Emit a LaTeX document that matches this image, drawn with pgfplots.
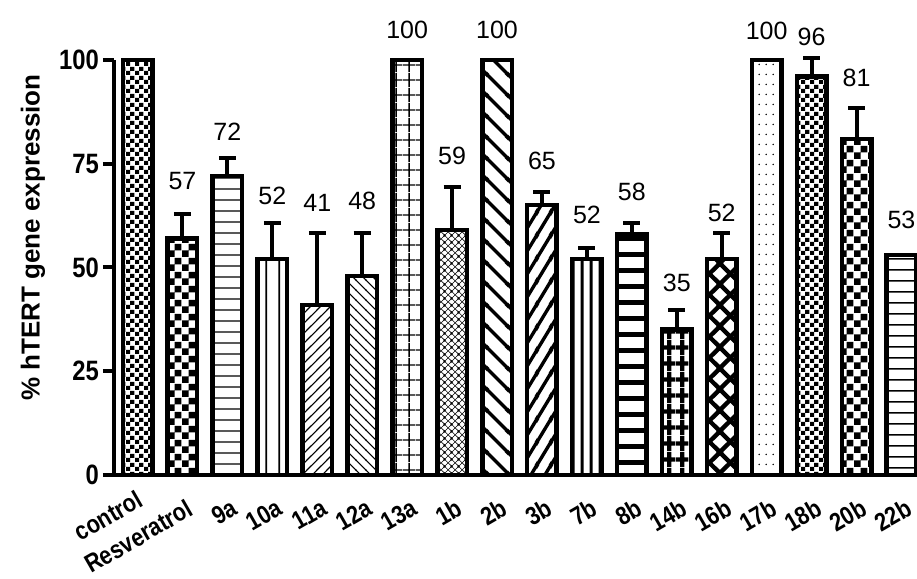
\documentclass[border=0pt]{standalone}
\usepackage{fontspec}
\setmainfont{Liberation Sans}
\newfontfamily\tickfont{Liberation Sans}[FakeStretch=0.85]
\usepackage{pgfplots}
\pgfplotsset{compat=1.18}
\usetikzlibrary{patterns}

\pgfdeclarepatternformonly{checkS}{\pgfpointorigin}{\pgfpoint{9pt}{9pt}}{\pgfpoint{9pt}{9pt}}{%
 \pgfpathrectangle{\pgfpointorigin}{\pgfpoint{4.5pt}{4.5pt}}%
 \pgfpathrectangle{\pgfpoint{4.5pt}{4.5pt}}{\pgfpoint{4.5pt}{4.5pt}}%
 \pgfusepath{fill}}
\pgfdeclarepatternformonly{checkL}{\pgfpointorigin}{\pgfpoint{14pt}{14pt}}{\pgfpoint{14pt}{14pt}}{%
 \pgfpathrectangle{\pgfpointorigin}{\pgfpoint{7pt}{7pt}}%
 \pgfpathrectangle{\pgfpoint{7pt}{7pt}}{\pgfpoint{7pt}{7pt}}%
 \pgfusepath{fill}}
\pgfdeclarepatternformonly{gridthin}{\pgfpointorigin}{\pgfpoint{13pt}{14.5pt}}{\pgfpoint{13pt}{14.5pt}}{%
 \pgfsetlinewidth{1.5pt}%
 \pgfpathmoveto{\pgfpoint{6.5pt}{0pt}}\pgfpathlineto{\pgfpoint{6.5pt}{14.5pt}}%
 \pgfpathmoveto{\pgfpoint{0pt}{7.25pt}}\pgfpathlineto{\pgfpoint{13pt}{7.25pt}}%
 \pgfusepath{stroke}}
\pgfdeclarepatternformonly{gridthick}{\pgfpointorigin}{\pgfpoint{13pt}{16pt}}{\pgfpoint{13pt}{16pt}}{%
 \pgfsetlinewidth{4.5pt}%
 \pgfpathmoveto{\pgfpoint{6.5pt}{0pt}}\pgfpathlineto{\pgfpoint{6.5pt}{16pt}}%
 \pgfpathmoveto{\pgfpoint{0pt}{8pt}}\pgfpathlineto{\pgfpoint{13pt}{8pt}}%
 \pgfusepath{stroke}}
\pgfdeclarepatternformonly{sparsedots}{\pgfpointorigin}{\pgfpoint{7pt}{10pt}}{\pgfpoint{7pt}{10pt}}{%
 \pgfpathcircle{\pgfpoint{3.5pt}{5pt}}{0.9pt}\pgfusepath{fill}}
% horizontal lines: name, period, width
\newcommand\hlines[3]{\pgfdeclarepatternformonly{#1}{\pgfpointorigin}{\pgfpoint{4pt}{#2}}{\pgfpoint{4pt}{#2}}{%
 \pgfsetlinewidth{#3}\pgfpathmoveto{\pgfpoint{-1pt}{0.5*#2}}\pgfpathlineto{\pgfpoint{5pt}{0.5*#2}}\pgfusepath{stroke}}}
\newcommand\vlines[3]{\pgfdeclarepatternformonly{#1}{\pgfpointorigin}{\pgfpoint{#2}{4pt}}{\pgfpoint{#2}{4pt}}{%
 \pgfsetlinewidth{#3}\pgfpathmoveto{\pgfpoint{0.5*#2}{-1pt}}\pgfpathlineto{\pgfpoint{0.5*#2}{5pt}}\pgfusepath{stroke}}}
% diagonal ascending: name, w, h, width
\newcommand\diagup[4]{\pgfdeclarepatternformonly{#1}{\pgfpointorigin}{\pgfpoint{#2}{#3}}{\pgfpoint{#2}{#3}}{%
 \pgfsetlinewidth{#4}%
 \pgfpathmoveto{\pgfpoint{-#2}{-#3}}\pgfpathlineto{\pgfpoint{2*#2}{2*#3}}%
 \pgfpathmoveto{\pgfpoint{-#2}{0pt}}\pgfpathlineto{\pgfpoint{2*#2}{3*#3}}%
 \pgfpathmoveto{\pgfpoint{0pt}{-#3}}\pgfpathlineto{\pgfpoint{3*#2}{2*#3}}%
 \pgfusepath{stroke}}}
\newcommand\diagdown[4]{\pgfdeclarepatternformonly{#1}{\pgfpointorigin}{\pgfpoint{#2}{#3}}{\pgfpoint{#2}{#3}}{%
 \pgfsetlinewidth{#4}%
 \pgfpathmoveto{\pgfpoint{-#2}{2*#3}}\pgfpathlineto{\pgfpoint{2*#2}{-#3}}%
 \pgfpathmoveto{\pgfpoint{-#2}{#3}}\pgfpathlineto{\pgfpoint{#2}{-#3}}%
 \pgfpathmoveto{\pgfpoint{0pt}{2*#3}}\pgfpathlineto{\pgfpoint{2*#2}{0pt}}%
 \pgfusepath{stroke}}}
\newcommand\xhatch[3]{\pgfdeclarepatternformonly{#1}{\pgfpointorigin}{\pgfpoint{#2}{#2}}{\pgfpoint{#2}{#2}}{%
 \pgfsetlinewidth{#3}%
 \pgfpathmoveto{\pgfpoint{-#2}{-#2}}\pgfpathlineto{\pgfpoint{2*#2}{2*#2}}%
 \pgfpathmoveto{\pgfpoint{-#2}{0pt}}\pgfpathlineto{\pgfpoint{#2}{2*#2}}%
 \pgfpathmoveto{\pgfpoint{0pt}{-#2}}\pgfpathlineto{\pgfpoint{2*#2}{#2}}%
 \pgfpathmoveto{\pgfpoint{-#2}{2*#2}}\pgfpathlineto{\pgfpoint{2*#2}{-#2}}%
 \pgfpathmoveto{\pgfpoint{-#2}{#2}}\pgfpathlineto{\pgfpoint{#2}{-#2}}%
 \pgfpathmoveto{\pgfpoint{0pt}{2*#2}}\pgfpathlineto{\pgfpoint{2*#2}{0pt}}%
 \pgfusepath{stroke}}}

\hlines{hA}{11pt}{1.5pt}
\hlines{hB}{15.5pt}{5pt}
\hlines{hC}{10.5pt}{1.5pt}
\vlines{vA}{13pt}{1.8pt}
\vlines{vB}{8.5pt}{3pt}
\diagup{dUthin}{9.9pt}{9.9pt}{1.1pt}
\diagdown{dDthin}{9.9pt}{9.9pt}{1.1pt}
\diagdown{dDthick}{21.2pt}{21.2pt}{3.5pt}
\diagup{dUthick}{14.15pt}{22.64pt}{3.5pt}
\xhatch{xfine}{7.07pt}{0.7pt}
\xhatch{xthick}{21.2pt}{4.5pt}

\pgfplotsset{
  bb/.style={draw=black, line width=4.5pt, pattern=#1, pattern color=black},
  eb/.style={error bars/.cd, y dir=plus, y explicit,
     error bar style={line width=4pt, solid, black},
     error mark options={rotate=90, line width=4pt, black, mark size=8.5pt}},
}

\begin{document}
\begin{tikzpicture}
\begin{axis}[
  x=44.94pt, y=4.15pt,
  xmin=-0.523, xmax=17.6, ymin=0, ymax=100,
  axis x line*=bottom, axis y line*=left,
  axis line style={line width=4.5pt, -},
  clip=false,
  ybar, bar width=29.5pt, bar shift=0pt,
  ytick={0,25,50,75,100},
  xtick={0,...,17},
  xticklabels={{\raisebox{10.4pt}[\height][\depth]{control}\hspace{-6pt}},Resveratrol,9a,10a,11a,12a,13a,1b,2b,3b,7b,8b,14b,16b,17b,18b,20b,22b},
  tick align=outside,
  major tick length=11pt,
  ytick style={line width=4pt, black},
  xtick style={draw=none},
  /pgf/number format/assume math mode=true,
  yticklabel style={font=\fontsize{28}{30}\selectfont\tickfont\bfseries, inner sep=0pt, xshift=-4pt},
  xticklabel style={font=\fontsize{25.5}{28}\selectfont\tickfont\bfseries, inner sep=0pt, yshift=-12pt, xshift=3pt, rotate=30, anchor=north east},
  ylabel={\% hTERT gene expression},
  every axis y label/.style={at={(axis description cs:-0.0994,0.572)}, rotate=90, anchor=center, font=\fontsize{26}{26}\selectfont\bfseries},
]
\coordinate (O) at (axis cs:0,0);
\addplot[bb=checkS] coordinates {(0,100)};
\addplot[bb=checkL, eb] coordinates {(1,57) +- (0,5.8)};
\addplot[bb=hA, eb] coordinates {(2,72) +- (0,4.5)};
\addplot[bb=vA, eb] coordinates {(3,52) +- (0,8.8)};
\addplot[bb=dUthin, eb] coordinates {(4,41) +- (0,17.2)};
\addplot[bb=dDthin, eb] coordinates {(5,48) +- (0,10.3)};
\addplot[bb=gridthin] coordinates {(6,100)};
\addplot[bb=xfine, eb] coordinates {(7,59) +- (0,10.5)};
\addplot[bb=dDthick] coordinates {(8,100)};
\addplot[bb=dUthick, eb] coordinates {(9,65) +- (0,3.3)};
\addplot[bb=vB, eb] coordinates {(10,52) +- (0,2.7)};
\addplot[bb=hB, eb] coordinates {(11,58) +- (0,2.8)};
\addplot[bb=gridthick, eb] coordinates {(12,35) +- (0,4.8)};
\addplot[bb=xthick, eb] coordinates {(13,52) +- (0,6.4)};
\addplot[bb=sparsedots] coordinates {(14,100)};
\addplot[bb=checkS, eb] coordinates {(15,96) +- (0,4.4)};
\addplot[bb=checkL, eb] coordinates {(16,81) +- (0,7.4)};
\addplot[bb=hC] coordinates {(17,53)};
% value labels
\addplot[sharp plot, draw=none, mark=none, nodes near coords, point meta=explicit symbolic,
  every node near coord/.append style={anchor=base, inner sep=0pt, font=\fontsize{25}{25}\selectfont}]
  coordinates {(1,68.7)[57] (2,80.5)[72] (3,65.1)[52] (4,63.4)[41] (5,63.9)[48] (6,105.3)[100]
  (7,74.7)[59] (8,105.3)[100] (9,73.7)[65] (10,60.5)[52] (11,66.1)[58] (12,44.2)[35]
  (13,61)[52] (14,105)[100] (15,103.6)[96] (16,93.6)[81] (17,59.5)[53]};
\end{axis}
\pgfresetboundingbox
\path[use as bounding box] (O) ++(-137.5pt,-103pt) rectangle ++(917pt,578pt);
\end{tikzpicture}
\end{document}
